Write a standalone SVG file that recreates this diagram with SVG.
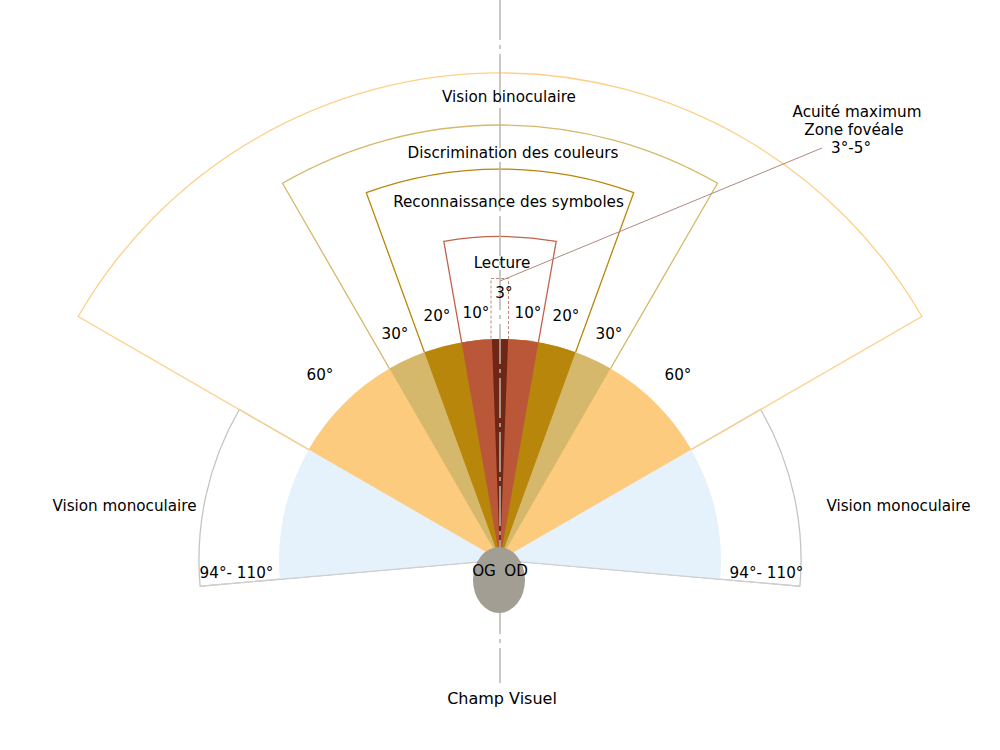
<svg xmlns="http://www.w3.org/2000/svg" width="1000" height="750" viewBox="0 0 1000 750">
<style>
text{font-family:"DejaVu Sans","Noto Sans",sans-serif;font-size:15.2px;fill:#000;text-anchor:middle}
.big{font-size:16px}
.ol{fill:none;stroke-width:1.3}
</style>
<rect width="1000" height="750" fill="#fff"/>
<g id="outlines">
<path id="mono-left" class="ol" stroke="#c4c4c4" d="M500,560 L239.3,409.5 A301,301 0 0,0 200.1,586.2 Z"/>
<path id="mono-right" class="ol" stroke="#c4c4c4" d="M500,560 L760.7,409.5 A301,301 0 0,1 799.9,586.2 Z"/>
<path id="binoculaire" class="ol" stroke="#fdd08a" d="M500,560 L78.2,316.5 A487,487 0 0,1 921.8,316.5 Z"/>
<path id="couleurs" class="ol" stroke="#d4b96a" d="M500,560 L282.5,183.3 A435,435 0 0,1 717.5,183.3 Z"/>
<path id="symboles" class="ol" stroke="#b8860b" d="M500,560 L366.3,192.6 A391,391 0 0,1 633.7,192.6 Z"/>
<path id="lecture" class="ol" stroke="#c0634a" d="M500,560 L443.8,241.4 A323.5,323.5 0 0,1 556.2,241.4 Z"/>
<rect id="fovea-box" x="491" y="278.5" width="17.5" height="70" fill="none" stroke="#c08a7a" stroke-width="1" stroke-dasharray="3,2"/>
</g>
<g id="fills">
<path id="f-mono" fill="#e5f2fb" d="M500,560 L279.8,579.3 A221,221 0 1,1 720.2,579.3 Z"/>
<path id="f-bino" fill="#fdcb7e" d="M500,560 L308.6,449.5 A221,221 0 0,1 691.4,449.5 Z"/>
<path id="f-coul" fill="#d5b86c" d="M500,560 L389.5,368.6 A221,221 0 0,1 610.5,368.6 Z"/>
<path id="f-symb" fill="#b8860b" d="M500,560 L424.4,352.3 A221,221 0 0,1 575.6,352.3 Z"/>
<path id="f-lect" fill="#b95738" d="M500,560 L461.6,342.4 A221,221 0 0,1 538.4,342.4 Z"/>
<path id="f-fov" fill="#702614" d="M500,560 L491.9,339.2 A221,221 0 0,1 508.1,339.2 Z"/>
</g>
<g id="connectors">
<line id="axis" x1="500" y1="0" x2="500" y2="683" stroke="#b8b8b0" stroke-width="1.5" stroke-dasharray="40,5,4,5"/>
<line id="leader" x1="500" y1="281" x2="822" y2="148" stroke="#b08880" stroke-width="1"/>
<line id="mono-base-l" x1="500" y1="560" x2="200.1" y2="586.2" stroke="#d0d0d0" stroke-width="1"/>
<line id="mono-base-r" x1="500" y1="560" x2="799.9" y2="586.2" stroke="#d0d0d0" stroke-width="1"/>
</g>
<g id="eyes">
<ellipse cx="499" cy="580" rx="26" ry="33" fill="#a29e93"/>
<text x="484" y="576">OG</text>
<text x="516" y="576">OD</text>
</g>
<g id="labels">
<text x="509" y="102">Vision binoculaire</text>
<text x="513" y="158">Discrimination des couleurs</text>
<text x="508.5" y="207">Reconnaissance des symboles</text>
<text x="502" y="268">Lecture</text>
<text x="504" y="298">3°</text>
<text x="476" y="318">10°</text>
<text x="528" y="318">10°</text>
<text x="437" y="321">20°</text>
<text x="566" y="321">20°</text>
<text x="395" y="339">30°</text>
<text x="609" y="339">30°</text>
<text x="320" y="380">60°</text>
<text x="678" y="380">60°</text>
<text x="124.5" y="511">Vision monoculaire</text>
<text x="898.5" y="511">Vision monoculaire</text>
<text x="236.5" y="578">94°- 110°</text>
<text x="766.5" y="578">94°- 110°</text>
<text x="857" y="117">Acuité maximum</text>
<text x="854" y="135">Zone fovéale</text>
<text x="851" y="153">3°-5°</text>
<text class="big" x="502" y="704">Champ Visuel</text>
</g>
</svg>
